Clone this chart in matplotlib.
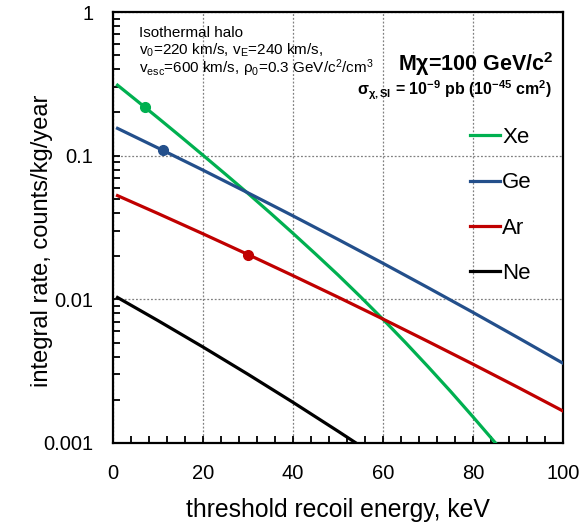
import matplotlib
matplotlib.use('Agg')
import matplotlib.pyplot as plt
from matplotlib.ticker import MultipleLocator, FixedLocator, LogLocator, NullFormatter

plt.rcParams['font.family'] = ['Liberation Sans', 'DejaVu Sans']
plt.rcParams['mathtext.fontset'] = 'custom'
plt.rcParams['mathtext.rm'] = 'Liberation Sans'
plt.rcParams['mathtext.it'] = 'Liberation Sans'
plt.rcParams['mathtext.bf'] = 'Liberation Sans:bold'

# integral rates (counts/kg/year vs threshold keV)
xe_E = [1, 5, 10, 15, 20, 25, 30, 35, 40, 45, 50, 55, 60, 65, 70, 75, 80, 85, 86]
xe_R = [0.3097, 0.2455, 0.1832, 0.1361, 0.1007, 0.0743, 0.0546, 0.0398, 0.0288, 0.0207,
        0.01479, 0.01042, 0.00726, 0.0050, 0.0034, 0.00229, 0.00152, 0.0010, 0.000918]

ge_E = [1, 10, 20, 30, 40, 50, 60, 70, 80, 90, 100]
ge_R = [0.1549, 0.1131, 0.0793, 0.0551, 0.0381, 0.02615, 0.01782, 0.01206, 0.00811, 0.00541, 0.00359]

ar_E = [1, 10, 20, 30, 40, 50, 60, 70, 80, 90, 100]
ar_R = [0.05272, 0.03957, 0.02858, 0.02051, 0.01462, 0.01036, 0.00729, 0.00509, 0.003536, 0.002439, 0.00167]

ne_E = [1, 10, 20, 30, 40, 50, 55]
ne_R = [0.0103, 0.00711, 0.004656, 0.003008, 0.001919, 0.001208, 0.000954]

# highlighted points
mark_E = {'Xe': 7, 'Ge': 11, 'Ar': 30}
mark_R = {'Xe': 0.219, 'Ge': 0.1092, 'Ar': 0.0205}

colors = {'Xe': '#00b050', 'Ge': '#234f8b', 'Ar': '#c00000', 'Ne': '#000000'}

fig = plt.figure(figsize=(5.82, 5.24), dpi=100)
ax = fig.add_axes([113/582, 1-443/524, 450/582, 431/524])

series = [('Xe', xe_E, xe_R), ('Ge', ge_E, ge_R), ('Ar', ar_E, ar_R), ('Ne', ne_E, ne_R)]
for name, E, R in series:
    ax.plot(E, R, color=colors[name], lw=2.3, label=name, zorder=3)
    if name in mark_E:
        ax.plot(mark_E[name], mark_R[name], 'o', color=colors[name], ms=7, zorder=4)

ax.set_yscale('log')
ax.set_xlim(0, 100)
ax.set_ylim(0.001, 1)
ax.xaxis.set_major_locator(MultipleLocator(20))
ax.xaxis.set_minor_locator(MultipleLocator(4))
ax.yaxis.set_major_locator(FixedLocator([0.001, 0.01, 0.1, 1]))
ax.yaxis.set_minor_locator(LogLocator(base=10, subs=range(2, 10)))
ax.yaxis.set_minor_formatter(NullFormatter())
ax.set_yticklabels(['0.001', '0.01', '0.1', '1'])

ax.tick_params(which='both', direction='in', length=5, width=1.3, labelsize=14.5,
               top=False, right=False)
ax.tick_params(axis='x', pad=15)
ax.tick_params(axis='y', pad=14)
for s in ax.spines.values():
    s.set_linewidth(1.6)

ax.grid(True, which='major', color='#808080', ls=(0, (1.5, 1.5)), lw=0.9)

ax.set_xlabel('threshold recoil energy, keV', fontsize=17.8, labelpad=11)
ax.set_ylabel('integral rate, counts/kg/year', fontsize=17)
ax.yaxis.set_label_coords(-0.133, 0.47)

ax.text(0.057, 0.951, 'Isothermal halo', transform=ax.transAxes, fontsize=11, va='center')
ax.text(0.057, 0.912, r'v$_0$=220 km/s, v$_\mathrm{E}$=240 km/s,', transform=ax.transAxes,
        fontsize=11, va='center')
ax.text(0.057, 0.870, r'v$_\mathrm{esc}$=600 km/s, ρ$_0$=0.3 GeV/c$^2$/cm$^3$', transform=ax.transAxes,
        fontsize=11, va='center')
ax.text(0.978, 0.880, r'Mχ=100 GeV/c$^\mathbf{2}$', transform=ax.transAxes, fontsize=15.5,
        fontweight='bold', ha='right', va='center')
ax.text(0.975, 0.818, r'$\mathbf{\sigma}_{\mathbf{\chi,SI}}$ = 10$^\mathbf{-9}$ pb (10$^\mathbf{-45}$ cm$^\mathbf{2}$)',
        transform=ax.transAxes, fontsize=11.5, fontweight='bold', ha='right', va='center')

ax.legend(loc='center left', bbox_to_anchor=(0.793, 0.551), frameon=False, fontsize=16,
          handlelength=1.36, handletextpad=0.1, labelspacing=1.1, borderpad=0, borderaxespad=0)

fig.savefig('out.png', dpi=100)
